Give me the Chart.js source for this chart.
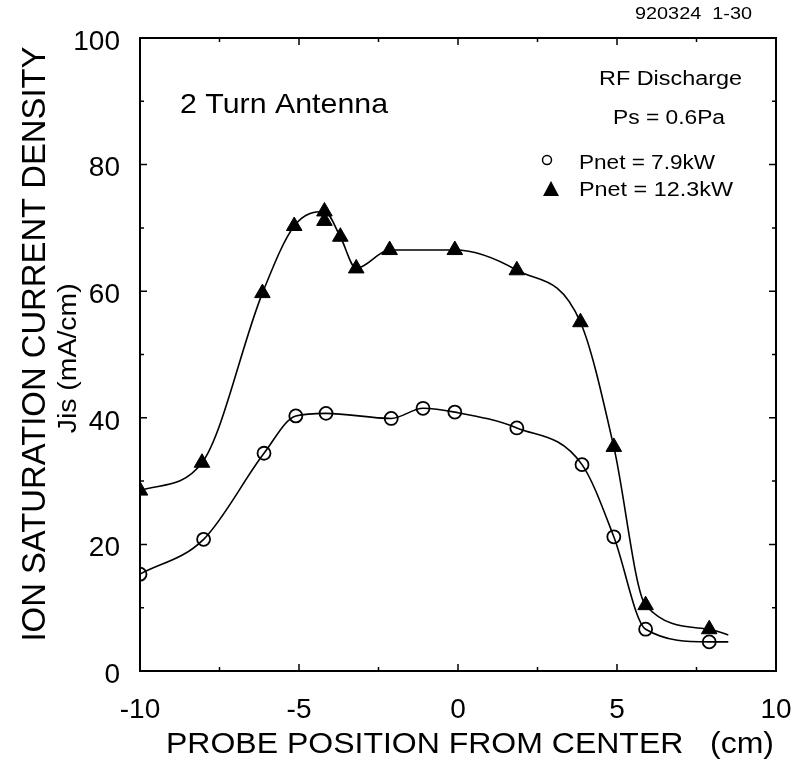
<!DOCTYPE html>
<html>
<head>
<meta charset="utf-8">
<script src="https://cdn.jsdelivr.net/npm/chart.js@4.4.1/dist/chart.umd.min.js"></script>
<style>
  html, body { margin: 0; padding: 0; background: #fff; }
  #wrap { width: 794px; height: 762px; position: relative; }
</style>
</head>
<body>
<div id="wrap"><canvas id="c" width="794" height="762"></canvas></div>
<script>
// Probe positions (cm) and ion saturation current density (mA/cm)
const posLow = [-10, -8, -6.1, -5.1, -4.15, -2.1, -1.1, -0.1, 1.85, 3.9, 4.9, 5.9, 7.9];
const jisLow = [15.3, 20.8, 34.4, 40.3, 40.7, 39.9, 41.5, 40.9, 38.4, 32.6, 21.2, 6.6, 4.6];
const posHigh = [-10, -8.05, -6.15, -5.15, -4.2, -4.2, -3.7, -3.2, -2.15, -0.1, 1.85, 3.85, 4.9, 5.9, 7.9];
const jisHigh = [28.5, 32.9, 59.7, 70.3, 72.6, 71.1, 68.6, 63.6, 66.5, 66.5, 63.3, 55.1, 35.4, 10.4, 6.6];
// where each fitted curve stops on the right
const curveEndLow = [8.5, 4.6];
const curveEndHigh = [8.5, 5.7];

const xTicks = [-10, -5, 0, 5, 10];
const yTicks = [0, 20, 40, 60, 80, 100];

const FONT = "'Liberation Sans', Arial, Helvetica, sans-serif";

const pts = (xs, ys) => xs.map((x, i) => ({ x: x, y: ys[i] }));
// curve through the points (one of the two readings at the same position is skipped)
const curve = (xs, ys, end) => {
  const out = [];
  xs.forEach((x, i) => {
    if (i > 0 && xs[i - 1] === x) return;
    out.push({ x: x, y: ys[i] });
  });
  out.push({ x: end[0], y: end[1] });
  return out;
};

// text drawn at a given font size and widened to the given width
function fitText(ctx, txt, x, y, w, align) {
  const m = ctx.measureText(txt).width;
  ctx.save();
  ctx.translate(x, y);
  ctx.scale(w / m, 1);
  ctx.textAlign = align;
  ctx.fillText(txt, 0, 0);
  ctx.restore();
  return w / m;
}

const framePlugin = {
  id: 'frame',
  afterDraw(chart) {
    const { ctx, chartArea: a, scales } = chart;
    const xs = scales.x, ys = scales.y;
    ctx.save();
    ctx.strokeStyle = '#000';
    ctx.lineWidth = 2;
    ctx.strokeRect(a.left, a.top, a.right - a.left, a.bottom - a.top);
    ctx.lineWidth = 1.5;
    ctx.beginPath();
    for (let v = 0; v <= 100; v += 10) {
      const y = ys.getPixelForValue(v);
      const L = v % 20 === 0 ? 7 : 4;
      ctx.moveTo(a.left, y); ctx.lineTo(a.left + L, y);
      ctx.moveTo(a.right, y); ctx.lineTo(a.right - L, y);
    }
    for (let v = -10; v <= 10; v += 2.5) {
      const x = xs.getPixelForValue(v);
      const L = v % 5 === 0 ? 7 : 4;
      ctx.moveTo(x, a.bottom); ctx.lineTo(x, a.bottom - L);
      ctx.moveTo(x, a.top); ctx.lineTo(x, a.top + L);
    }
    ctx.stroke();

    ctx.fillStyle = '#000';
    ctx.textBaseline = 'middle';

    // axis titles
    const yTitle = 'ION SATURATION CURRENT DENSITY';
    const yTitleLen = 595, yTitleMid = 344;
    ctx.font = '33px ' + FONT;
    const k = yTitleLen / ctx.measureText(yTitle).width;
    const gap = yTitleMid + yTitleLen / 2 - ctx.measureText('ION SATURATION ').width * k;
    ctx.save();
    ctx.translate(36, yTitleMid);
    ctx.rotate(-Math.PI / 2);
    fitText(ctx, yTitle, 0, 0, yTitleLen, 'center');
    ctx.restore();
    ctx.save();
    ctx.translate(69, gap);
    ctx.rotate(-Math.PI / 2);
    ctx.font = '25px ' + FONT;
    fitText(ctx, 'Jis (mA/cm)', 0, 0, 150, 'center');
    ctx.restore();
    ctx.font = '29px ' + FONT;
    fitText(ctx, 'PROBE POSITION FROM CENTER   (cm)', 470, 745, 608, 'center');

    // annotations
    ctx.font = '28px ' + FONT;
    fitText(ctx, '2 Turn Antenna', 180, 105, 208, 'left');
    ctx.font = '20px ' + FONT;
    fitText(ctx, 'RF Discharge', 742, 79, 143, 'right');
    fitText(ctx, 'Ps = 0.6Pa', 725, 118, 112, 'right');
    fitText(ctx, 'Pnet = 7.9kW', 579, 163, 136, 'left');
    fitText(ctx, 'Pnet = 12.3kW', 579, 190, 154, 'left');
    ctx.font = '16px ' + FONT;
    fitText(ctx, '920324  1-30', 752, 15, 117, 'right');

    // legend markers
    ctx.lineWidth = 1.5;
    ctx.beginPath();
    ctx.arc(547, 160, 4.5, 0, Math.PI * 2);
    ctx.fillStyle = '#fff';
    ctx.fill();
    ctx.stroke();
    ctx.fillStyle = '#000';
    ctx.beginPath();
    ctx.moveTo(551, 181);
    ctx.lineTo(559, 196);
    ctx.lineTo(543, 196);
    ctx.closePath();
    ctx.fill();
    ctx.restore();
  }
};

new Chart(document.getElementById('c'), {
  type: 'scatter',
  data: {
    datasets: [
      {
        label: 'curve high',
        data: curve(posHigh, jisHigh, curveEndHigh),
        showLine: true,
        cubicInterpolationMode: 'monotone',
        borderColor: '#000',
        borderWidth: 1.6,
        pointRadius: 0,
        fill: false
      },
      {
        label: 'curve low',
        data: curve(posLow, jisLow, curveEndLow),
        showLine: true,
        cubicInterpolationMode: 'monotone',
        borderColor: '#000',
        borderWidth: 1.6,
        pointRadius: 0,
        fill: false
      },
      {
        label: 'Pnet = 12.3kW',
        data: pts(posHigh, jisHigh),
        showLine: false,
        pointStyle: 'triangle',
        pointRadius: 9,
        backgroundColor: '#000',
        borderColor: '#000',
        borderWidth: 1
      },
      {
        label: 'Pnet = 7.9kW',
        data: pts(posLow, jisLow),
        showLine: false,
        pointStyle: 'circle',
        pointRadius: 6.5,
        backgroundColor: '#fff',
        borderColor: '#000',
        borderWidth: 1.8
      }
    ]
  },
  options: {
    responsive: false,
    animation: false,
    layout: { padding: { top: 38, right: 18, left: 0, bottom: 0 } },
    plugins: { legend: { display: false }, tooltip: { enabled: false } },
    scales: {
      x: {
        type: 'linear',
        min: -10, max: 10,
        afterBuildTicks: s => { s.ticks = xTicks.map(v => ({ value: v })); },
        grid: { display: false },
        border: { display: false },
        ticks: {
          color: '#000',
          font: { family: FONT, size: 28 },
          padding: 14,
          maxRotation: 0,
          callback: v => String(v)
        },
        afterFit: s => { s.height = 91; s.paddingLeft = 0; s.paddingRight = 0; }
      },
      y: {
        type: 'linear',
        min: 0, max: 100,
        afterBuildTicks: s => { s.ticks = yTicks.map(v => ({ value: v })); },
        grid: { display: false },
        border: { display: false },
        ticks: {
          color: '#000',
          font: { family: FONT, size: 28 },
          padding: 12,
          labelOffset: 4,
          callback: v => String(v)
        },
        afterFit: s => { s.width = 140; s.paddingTop = 0; s.paddingBottom = 0; }
      }
    }
  },
  plugins: [framePlugin]
});
</script>
</body>
</html>
